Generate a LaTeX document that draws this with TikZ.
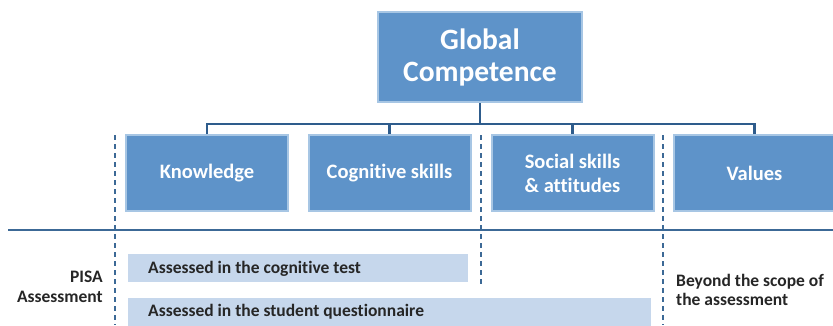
\documentclass[tikz,border=0pt]{standalone}
\usepackage{fontspec}
\setmainfont{Carlito}[Ligatures=NoCommon]
\definecolor{boxfill}{RGB}{94,147,201}
\definecolor{boxedge}{RGB}{167,198,228}
\definecolor{linec}{RGB}{46,92,140}
\definecolor{dashc}{RGB}{60,105,150}
\definecolor{barfill}{RGB}{198,215,236}
\definecolor{txtc}{RGB}{38,38,38}
\begin{document}
\begin{tikzpicture}[x=1pt,y=-1pt,
  bigbox/.style={draw=boxedge,line width=2pt,fill=boxfill,text=white,font=\bfseries\fontsize{29.5}{32}\selectfont,align=center,minimum width=204pt,minimum height=90pt,inner sep=0pt},
  catbox/.style={draw=boxedge,line width=2pt,fill=boxfill,text=white,font=\bfseries\fontsize{20.5}{24}\selectfont,align=center,minimum width=162pt,minimum height=76pt,inner sep=0pt},
  tree/.style={draw=linec,line width=2.5pt},
  sep/.style={draw=dashc,line width=1.3pt,dash pattern=on 5pt off 4pt},
  bar/.style={fill=barfill,draw=none,anchor=west,minimum height=28pt,inner sep=0pt},
  bartext/.style={text=txtc,font=\bfseries\fontsize{17.5}{20}\selectfont,anchor=west,inner sep=0pt},
  side/.style={text=txtc,font=\bfseries\fontsize{17.5}{19.5}\selectfont,inner sep=0pt}]
\useasboundingbox (0,0) rectangle (833,325);
% boxes
\node[bigbox] (glob) at (480,57) {Global\\Competence};
\node[catbox] (know) at (207,173) {Knowledge};
\node[catbox] (cog) at (389.5,173) {Cognitive skills};
\node[catbox] (soc) at (572.5,173) {Social skills\\\& attitudes};
\node[catbox] (val) at (754.5,173) {Values};
% tree connectors
\coordinate (bus) at (480,124);
\draw[tree] (glob.south) -- (bus);
\draw[tree] (know.north) |- (bus);
\draw[tree] (cog.north) |- (bus);
\draw[tree] (soc.north) |- (bus);
\draw[tree] (val.north) |- (bus);
% separators
\coordinate (hl) at (8,230);
\coordinate (hr) at (833,230);
\draw[draw=dashc,line width=1.5pt] (hl) -- (hr);
\coordinate (d1t) at (115,135); \coordinate (d1b) at (115,325);
\coordinate (d2t) at (481,135); \coordinate (d2b) at (481,284);
\coordinate (d3t) at (663,135); \coordinate (d3b) at (663,325);
\draw[sep] (d1t) -- (d1b);
\draw[sep] (d2t) -- (d2b);
\draw[sep] (d3t) -- (d3b);
% bars
\node[bar,minimum width=340pt] (bar1) at (128,268) {};
\node[bar,minimum width=523pt] (bar2) at (128,312) {};
\node[bartext] (t1) at (148,269) {Assessed in the cognitive test};
\node[bartext] (t2) at (148,312) {Assessed in the student questionnaire};
% side labels
\node[side,align=right,anchor=east] (pisa) at (103,287) {PISA\\Assessment};
\node[side,align=left,anchor=west] (beyond) at (676,290) {Beyond the scope of\\the assessment};
\end{tikzpicture}
\end{document}
